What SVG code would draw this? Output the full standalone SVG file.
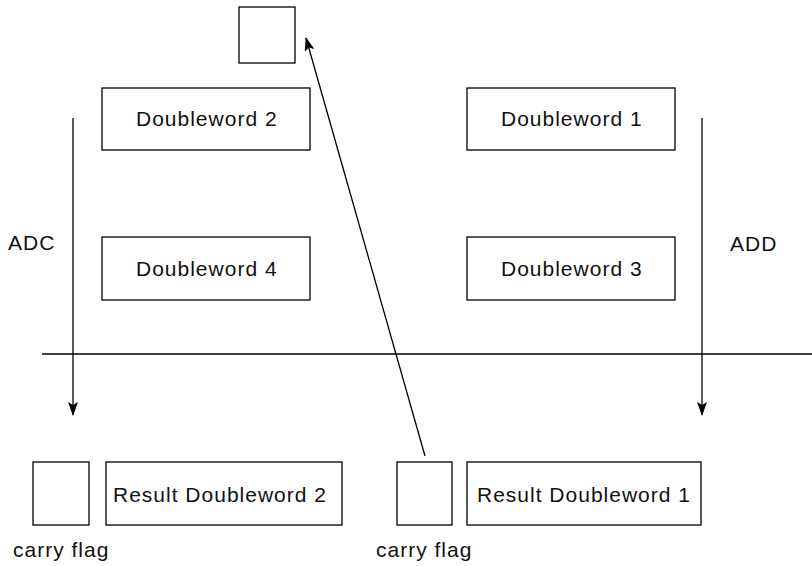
<svg xmlns="http://www.w3.org/2000/svg" width="812" height="566" viewBox="0 0 812 566">
<style>
.b{fill:#fff;stroke:#000;stroke-width:1.3}
text{font-family:"Liberation Sans",Arial,sans-serif;font-size:21px;letter-spacing:1px;fill:#111}
.c{stroke:#000;stroke-width:1.3;fill:none}
</style>
<defs>
<marker id="ah" viewBox="0 0 14 10" refX="13" refY="5" markerWidth="14" markerHeight="10" markerUnits="userSpaceOnUse" orient="auto">
<path d="M0,0 L14,5 L0,10 L3,5 Z" fill="#000"/>
</marker>
</defs>
<rect width="812" height="566" fill="#fff"/>
<g id="carry-top"><rect class="b" x="239" y="7" width="56" height="56"/></g>
<g id="dw2"><rect class="b" x="102" y="88" width="208" height="62"/><text x="136" y="126">Doubleword 2</text></g>
<g id="dw1"><rect class="b" x="467" y="88" width="208" height="62"/><text x="501" y="126">Doubleword 1</text></g>
<g id="dw4"><rect class="b" x="102" y="237" width="208" height="63"/><text x="136" y="276">Doubleword 4</text></g>
<g id="dw3"><rect class="b" x="467" y="237" width="208" height="63"/><text x="501" y="276">Doubleword 3</text></g>
<g id="cf2"><rect class="b" x="33" y="462" width="56" height="63"/></g>
<g id="rdw2"><rect class="b" x="106" y="462" width="236" height="63"/><text x="113" y="502">Result Doubleword 2</text></g>
<g id="cf1"><rect class="b" x="397" y="462" width="55" height="63"/></g>
<g id="rdw1"><rect class="b" x="467" y="462" width="234" height="63"/><text x="477" y="502">Result Doubleword 1</text></g>
<g id="labels">
<text x="8" y="250">ADC</text>
<text x="730" y="251">ADD</text>
<text x="13" y="557">carry flag</text>
<text x="376" y="557">carry flag</text>
</g>
<g id="connectors">
<line class="c" x1="42" y1="354" x2="812" y2="354"/>
<line class="c" x1="73" y1="118" x2="73" y2="415" marker-end="url(#ah)"/>
<line class="c" x1="702" y1="118" x2="702" y2="415" marker-end="url(#ah)"/>
<line class="c" x1="425" y1="456" x2="306" y2="38" marker-end="url(#ah)"/>
</g>
</svg>
